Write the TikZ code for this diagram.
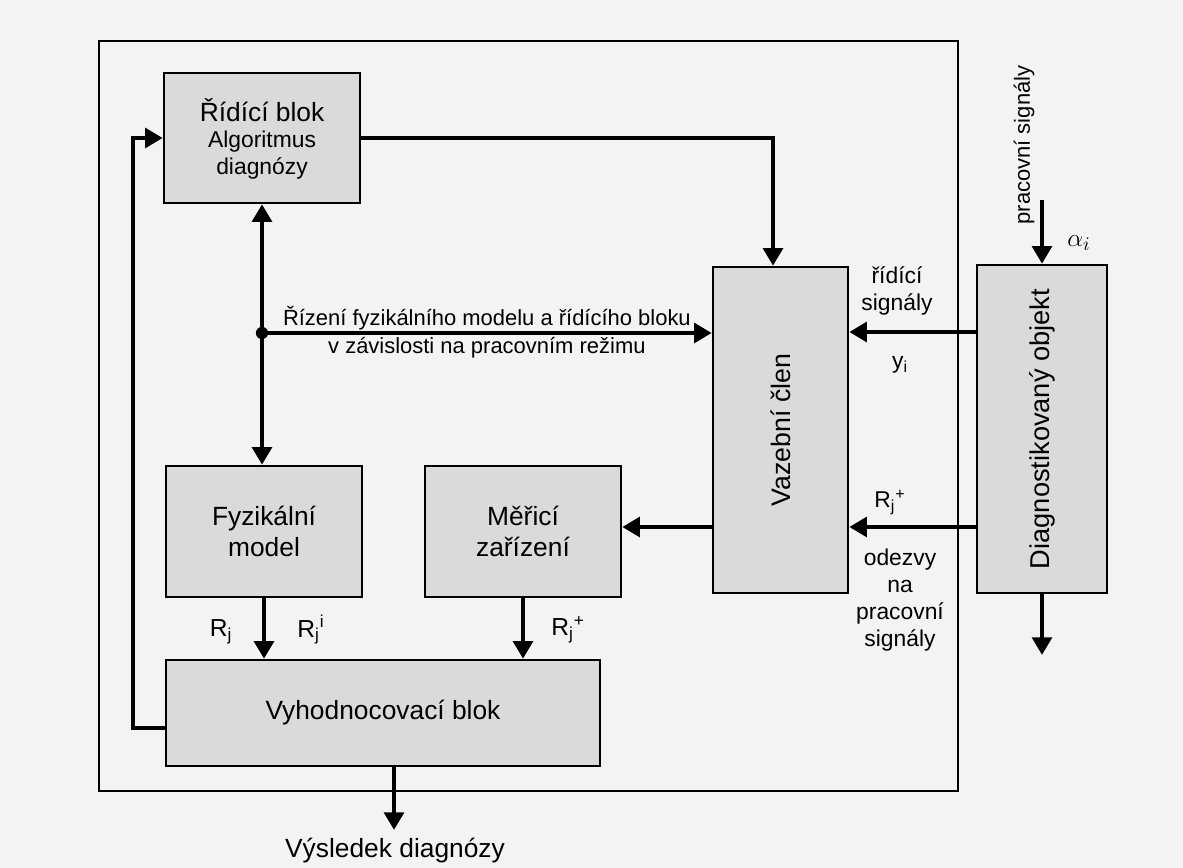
\documentclass[tikz,border=0pt]{standalone}
\usepackage{fontspec}
\setmainfont{Liberation Sans}
\usetikzlibrary{arrows.meta,fit,calc}
\definecolor{boxgray}{HTML}{DADADA}
\definecolor{bggray}{HTML}{F3F3F3}
\begin{document}
\begin{tikzpicture}[x=0.02cm,y=-0.02cm,
  box/.style={draw, line width=1.4pt, fill=boxgray, inner sep=0pt, align=center},
  frame/.style={draw, line width=1.1pt, inner sep=0pt},
  arr/.style={line width=2.5pt, -{Triangle[length=10pt,width=11pt]}},
  darr/.style={line width=2.5pt, {Triangle[length=10pt,width=11pt]}-{Triangle[length=10pt,width=11pt]}},
  big/.style={font=\fontsize{15}{18}\selectfont},
  mid/.style={font=\fontsize{13}{16}\selectfont},
  lab/.style={font=\fontsize{13}{15.5}\selectfont, align=center, inner sep=0pt},
  rlab/.style={font=\fontsize{14}{16}\selectfont, inner sep=0pt}]
\useasboundingbox (0,0) rectangle (1183,868);
\fill[bggray] (0,0) rectangle (1183,868);

% outer frame
\node[frame, fit={(99,41) (958,791)}] (frame) {};

% blocks
\node[box, fit={(164,73) (360,203)}] (ridici) {};
\node[big, inner sep=0pt] (ridici1) at (262,110) {Řídící blok};
\node[mid, inner sep=0pt] (ridici2) at (262,142) {Algoritmus};
\node[mid, inner sep=0pt] (ridici3) at (262,168) {diagnózy};
\node[box, fit={(713,267) (848,593)}] (vaz) {};
\node[rotate=90, font=\fontsize{15.2}{18}\selectfont] (vaztext) at (vaz.center) {Vazební člen};
\node[box, fit={(977,265) (1107,593)}] (diag) {};
\node[rotate=90, font=\fontsize{15.5}{19}\selectfont] (diagtext) at (diag.center) {Diagnostikovaný objekt};
\node[box, fit={(166,466) (362,597)}] (fyz) {};
\node[align=center, big, inner sep=0pt] (fyztext) at (fyz.center) {Fyzikální\\model};
\node[box, fit={(425,466) (621,597)}] (mer) {};
\node[align=center, big, inner sep=0pt] (mertext) at (mer.center) {Měřicí\\zařízení};
\node[box, fit={(166,660) (600,766)}] (vyh) {};
\node[big, inner sep=0pt] (vyhtext) at (vyh.center) {Vyhodnocovací blok};

% feedback from evaluation block to control block
\coordinate (fb) at (133,728);
\draw[arr] (fb -| vyh.west) -- (fb) |- (ridici.west);

% control block to coupling element
\coordinate (c1) at (773,138);
\draw[arr] (ridici.east) -- (ridici.east -| c1) -- (c1 |- vaz.north);

% vertical double arrow and junction
\draw[darr] (ridici.south) -- (ridici.south |- fyz.north);
\coordinate (dot) at (262,333);
\fill (dot) circle (3.5pt);
\draw[arr] (dot) -- (dot -| vaz.west) coordinate[pos=0.5] (mtxt);
\node[lab, font=\fontsize{12.5}{15}\selectfont, anchor=south] (t1) at ([yshift=1.5pt]mtxt) {Řízení fyzikálního modelu a řídícího bloku};
\node[lab, font=\fontsize{12.5}{15}\selectfont, anchor=north] (t2) at ([yshift=-2pt]mtxt) {v závislosti na pracovním režimu};

% diagnosed object signals
\coordinate (s1) at (0,332);
\draw[arr] (s1 -| diag.west) -- (s1 -| vaz.east);
\coordinate (s2) at (0,527);
\draw[arr] (s2 -| diag.west) -- (s2 -| vaz.east);
\draw[arr] (s2 -| vaz.west) -- (s2 -| mer.east);

\node[lab] (rs) at (897,291) {řídící\\signály};
\node[lab] (yi) at (900,365) {y\textsubscript{i}};
\node[lab] (rplus) at (890,503) {R\textsubscript{j}\textsuperscript{+}};
\node[lab] (odez) at (900,600) {odezvy\\na\\pracovní\\signály};

% input working signals
\coordinate (ain) at (1042,200);
\draw[arr] (ain) -- (diag.north);
\node[rotate=90, font=\fontsize{12.5}{15}\selectfont, inner sep=0pt] (pracs) at (1024,145) {pracovní signály};
\node[inner sep=0pt, font=\fontsize{15}{18}\selectfont] (alpha) at (1079,243) {$\alpha_i$};

% diagnosed object output
\coordinate (dout) at (1042,655);
\draw[arr] (diag.south) -- (diag.south |- dout);

% models to evaluation
\draw[arr] (fyz.south) -- (fyz.south |- vyh.north);
\draw[arr] (mer.south) -- (mer.south |- vyh.north);
\node[rlab] (rj) at (221,632) {R\textsubscript{j}};
\node[rlab] (rji) at (311,630) {R\textsubscript{j}\textsuperscript{i}};
\node[rlab] (rjp) at (568,630) {R\textsubscript{j}\textsuperscript{+}};

% result
\coordinate (out) at (394,830);
\draw[arr] (out |- vyh.south) -- (out);
\node[big, inner sep=0pt] (res) at (395,851) {Výsledek diagnózy};
\end{tikzpicture}
\end{document}
